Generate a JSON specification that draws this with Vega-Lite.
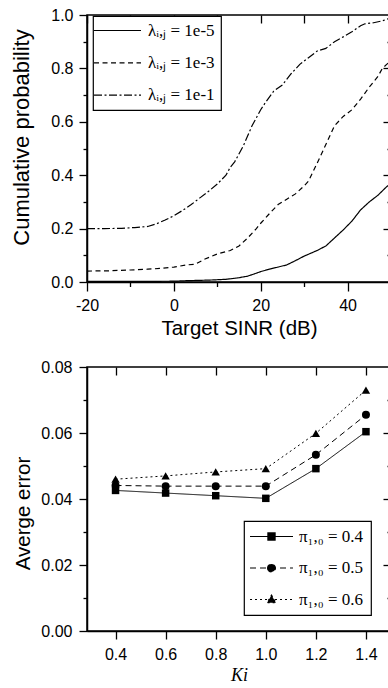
{
  "$schema": "https://vega.github.io/schema/vega-lite/v6.json",
  "background": "white",
  "padding": {"left": 10, "top": 6, "right": 0, "bottom": 0},
  "spacing": 18,
  "align": "none",
  "bounds": "full",
  "resolve": {"scale": {"strokeDash": "independent"}, "legend": {"strokeDash": "independent"}},
  "config": {
    "view": {"stroke": "black", "strokeWidth": 1.5},
    "axis": {
      "grid": false,
      "labelFont": "Liberation Sans",
      "labelFontSize": 16,
      "labelColor": "black",
      "labelFlush": false,
      "titleFont": "Liberation Sans",
      "titleFontWeight": "normal",
      "titleColor": "black",
      "tickColor": "black",
      "tickWidth": 1.3,
      "domainColor": "black",
      "domainWidth": 1.5
    },
    "legend": {
      "labelFont": "Liberation Serif",
      "labelFontSize": 17,
      "labelColor": "black",
      "strokeColor": "black",
      "fillColor": "white",
      "strokeWidth": 1.2
    }
  },
  "datasets": {
    "cdf": [
      {"snr": -20, "p": 0.002, "lam": "λᵢ,ⱼ = 1e-5"},
      {"snr": -10, "p": 0.002, "lam": "λᵢ,ⱼ = 1e-5"},
      {"snr": 0, "p": 0.003, "lam": "λᵢ,ⱼ = 1e-5"},
      {"snr": 3, "p": 0.005, "lam": "λᵢ,ⱼ = 1e-5"},
      {"snr": 8, "p": 0.007, "lam": "λᵢ,ⱼ = 1e-5"},
      {"snr": 12, "p": 0.01, "lam": "λᵢ,ⱼ = 1e-5"},
      {"snr": 15, "p": 0.016, "lam": "λᵢ,ⱼ = 1e-5"},
      {"snr": 17, "p": 0.022, "lam": "λᵢ,ⱼ = 1e-5"},
      {"snr": 19, "p": 0.033, "lam": "λᵢ,ⱼ = 1e-5"},
      {"snr": 20, "p": 0.039, "lam": "λᵢ,ⱼ = 1e-5"},
      {"snr": 22, "p": 0.048, "lam": "λᵢ,ⱼ = 1e-5"},
      {"snr": 24, "p": 0.056, "lam": "λᵢ,ⱼ = 1e-5"},
      {"snr": 26, "p": 0.064, "lam": "λᵢ,ⱼ = 1e-5"},
      {"snr": 28, "p": 0.08, "lam": "λᵢ,ⱼ = 1e-5"},
      {"snr": 30, "p": 0.097, "lam": "λᵢ,ⱼ = 1e-5"},
      {"snr": 31, "p": 0.104, "lam": "λᵢ,ⱼ = 1e-5"},
      {"snr": 33, "p": 0.118, "lam": "λᵢ,ⱼ = 1e-5"},
      {"snr": 35, "p": 0.135, "lam": "λᵢ,ⱼ = 1e-5"},
      {"snr": 37, "p": 0.165, "lam": "λᵢ,ⱼ = 1e-5"},
      {"snr": 39, "p": 0.195, "lam": "λᵢ,ⱼ = 1e-5"},
      {"snr": 41, "p": 0.228, "lam": "λᵢ,ⱼ = 1e-5"},
      {"snr": 43, "p": 0.27, "lam": "λᵢ,ⱼ = 1e-5"},
      {"snr": 45, "p": 0.3, "lam": "λᵢ,ⱼ = 1e-5"},
      {"snr": 47, "p": 0.325, "lam": "λᵢ,ⱼ = 1e-5"},
      {"snr": 49, "p": 0.357, "lam": "λᵢ,ⱼ = 1e-5"},
      {"snr": 50, "p": 0.37, "lam": "λᵢ,ⱼ = 1e-5"},
      {"snr": -20, "p": 0.041, "lam": "λᵢ,ⱼ = 1e-3"},
      {"snr": -15, "p": 0.042, "lam": "λᵢ,ⱼ = 1e-3"},
      {"snr": -10, "p": 0.045, "lam": "λᵢ,ⱼ = 1e-3"},
      {"snr": -6, "p": 0.048, "lam": "λᵢ,ⱼ = 1e-3"},
      {"snr": -3, "p": 0.051, "lam": "λᵢ,ⱼ = 1e-3"},
      {"snr": 0, "p": 0.056, "lam": "λᵢ,ⱼ = 1e-3"},
      {"snr": 3, "p": 0.064, "lam": "λᵢ,ⱼ = 1e-3"},
      {"snr": 5, "p": 0.067, "lam": "λᵢ,ⱼ = 1e-3"},
      {"snr": 7, "p": 0.085, "lam": "λᵢ,ⱼ = 1e-3"},
      {"snr": 10, "p": 0.105, "lam": "λᵢ,ⱼ = 1e-3"},
      {"snr": 13, "p": 0.118, "lam": "λᵢ,ⱼ = 1e-3"},
      {"snr": 15, "p": 0.135, "lam": "λᵢ,ⱼ = 1e-3"},
      {"snr": 17, "p": 0.165, "lam": "λᵢ,ⱼ = 1e-3"},
      {"snr": 19, "p": 0.2, "lam": "λᵢ,ⱼ = 1e-3"},
      {"snr": 20, "p": 0.22, "lam": "λᵢ,ⱼ = 1e-3"},
      {"snr": 22, "p": 0.256, "lam": "λᵢ,ⱼ = 1e-3"},
      {"snr": 24, "p": 0.29, "lam": "λᵢ,ⱼ = 1e-3"},
      {"snr": 26, "p": 0.31, "lam": "λᵢ,ⱼ = 1e-3"},
      {"snr": 28, "p": 0.33, "lam": "λᵢ,ⱼ = 1e-3"},
      {"snr": 30, "p": 0.36, "lam": "λᵢ,ⱼ = 1e-3"},
      {"snr": 31, "p": 0.378, "lam": "λᵢ,ⱼ = 1e-3"},
      {"snr": 33, "p": 0.445, "lam": "λᵢ,ⱼ = 1e-3"},
      {"snr": 35, "p": 0.515, "lam": "λᵢ,ⱼ = 1e-3"},
      {"snr": 37, "p": 0.585, "lam": "λᵢ,ⱼ = 1e-3"},
      {"snr": 39, "p": 0.62, "lam": "λᵢ,ⱼ = 1e-3"},
      {"snr": 41, "p": 0.645, "lam": "λᵢ,ⱼ = 1e-3"},
      {"snr": 43, "p": 0.685, "lam": "λᵢ,ⱼ = 1e-3"},
      {"snr": 45, "p": 0.73, "lam": "λᵢ,ⱼ = 1e-3"},
      {"snr": 47, "p": 0.77, "lam": "λᵢ,ⱼ = 1e-3"},
      {"snr": 48, "p": 0.8, "lam": "λᵢ,ⱼ = 1e-3"},
      {"snr": 49, "p": 0.815, "lam": "λᵢ,ⱼ = 1e-3"},
      {"snr": 50, "p": 0.83, "lam": "λᵢ,ⱼ = 1e-3"},
      {"snr": -20, "p": 0.2, "lam": "λᵢ,ⱼ = 1e-1"},
      {"snr": -16, "p": 0.2, "lam": "λᵢ,ⱼ = 1e-1"},
      {"snr": -12, "p": 0.201, "lam": "λᵢ,ⱼ = 1e-1"},
      {"snr": -9, "p": 0.204, "lam": "λᵢ,ⱼ = 1e-1"},
      {"snr": -6, "p": 0.208, "lam": "λᵢ,ⱼ = 1e-1"},
      {"snr": -4, "p": 0.218, "lam": "λᵢ,ⱼ = 1e-1"},
      {"snr": -2, "p": 0.232, "lam": "λᵢ,ⱼ = 1e-1"},
      {"snr": 0, "p": 0.248, "lam": "λᵢ,ⱼ = 1e-1"},
      {"snr": 2, "p": 0.268, "lam": "λᵢ,ⱼ = 1e-1"},
      {"snr": 4, "p": 0.29, "lam": "λᵢ,ⱼ = 1e-1"},
      {"snr": 6, "p": 0.315, "lam": "λᵢ,ⱼ = 1e-1"},
      {"snr": 8, "p": 0.34, "lam": "λᵢ,ⱼ = 1e-1"},
      {"snr": 10, "p": 0.367, "lam": "λᵢ,ⱼ = 1e-1"},
      {"snr": 12, "p": 0.4, "lam": "λᵢ,ⱼ = 1e-1"},
      {"snr": 13, "p": 0.43, "lam": "λᵢ,ⱼ = 1e-1"},
      {"snr": 14, "p": 0.45, "lam": "λᵢ,ⱼ = 1e-1"},
      {"snr": 16, "p": 0.51, "lam": "λᵢ,ⱼ = 1e-1"},
      {"snr": 18, "p": 0.585, "lam": "λᵢ,ⱼ = 1e-1"},
      {"snr": 20, "p": 0.645, "lam": "λᵢ,ⱼ = 1e-1"},
      {"snr": 21, "p": 0.67, "lam": "λᵢ,ⱼ = 1e-1"},
      {"snr": 23, "p": 0.715, "lam": "λᵢ,ⱼ = 1e-1"},
      {"snr": 25, "p": 0.738, "lam": "λᵢ,ⱼ = 1e-1"},
      {"snr": 27, "p": 0.78, "lam": "λᵢ,ⱼ = 1e-1"},
      {"snr": 29, "p": 0.815, "lam": "λᵢ,ⱼ = 1e-1"},
      {"snr": 31, "p": 0.84, "lam": "λᵢ,ⱼ = 1e-1"},
      {"snr": 33, "p": 0.865, "lam": "λᵢ,ⱼ = 1e-1"},
      {"snr": 35, "p": 0.875, "lam": "λᵢ,ⱼ = 1e-1"},
      {"snr": 37, "p": 0.9, "lam": "λᵢ,ⱼ = 1e-1"},
      {"snr": 39, "p": 0.918, "lam": "λᵢ,ⱼ = 1e-1"},
      {"snr": 41, "p": 0.937, "lam": "λᵢ,ⱼ = 1e-1"},
      {"snr": 43, "p": 0.96, "lam": "λᵢ,ⱼ = 1e-1"},
      {"snr": 44, "p": 0.967, "lam": "λᵢ,ⱼ = 1e-1"},
      {"snr": 46, "p": 0.971, "lam": "λᵢ,ⱼ = 1e-1"},
      {"snr": 48, "p": 0.978, "lam": "λᵢ,ⱼ = 1e-1"},
      {"snr": 50, "p": 0.99, "lam": "λᵢ,ⱼ = 1e-1"}
    ],
    "err": [
      {"ki": 0.4, "err": 0.0426, "pi": "π₁,₀ = 0.4"},
      {"ki": 0.6, "err": 0.0418, "pi": "π₁,₀ = 0.4"},
      {"ki": 0.8, "err": 0.041, "pi": "π₁,₀ = 0.4"},
      {"ki": 1.0, "err": 0.0402, "pi": "π₁,₀ = 0.4"},
      {"ki": 1.2, "err": 0.0492, "pi": "π₁,₀ = 0.4"},
      {"ki": 1.4, "err": 0.0604, "pi": "π₁,₀ = 0.4"},
      {"ki": 0.4, "err": 0.0441, "pi": "π₁,₀ = 0.5"},
      {"ki": 0.6, "err": 0.0439, "pi": "π₁,₀ = 0.5"},
      {"ki": 0.8, "err": 0.0439, "pi": "π₁,₀ = 0.5"},
      {"ki": 1.0, "err": 0.0439, "pi": "π₁,₀ = 0.5"},
      {"ki": 1.2, "err": 0.0534, "pi": "π₁,₀ = 0.5"},
      {"ki": 1.4, "err": 0.0655, "pi": "π₁,₀ = 0.5"},
      {"ki": 0.4, "err": 0.046, "pi": "π₁,₀ = 0.6"},
      {"ki": 0.6, "err": 0.047, "pi": "π₁,₀ = 0.6"},
      {"ki": 0.8, "err": 0.0482, "pi": "π₁,₀ = 0.6"},
      {"ki": 1.0, "err": 0.0492, "pi": "π₁,₀ = 0.6"},
      {"ki": 1.2, "err": 0.0599, "pi": "π₁,₀ = 0.6"},
      {"ki": 1.4, "err": 0.073, "pi": "π₁,₀ = 0.6"}
    ]
  },
  "vconcat": [
    {
      "width": 304,
      "height": 267,
      "data": {"name": "cdf"},
      "resolve": {"axis": {"x": "independent", "y": "independent"}},
      "layer": [
        {
          "mark": {"type": "line", "color": "black", "strokeWidth": 1.2, "clip": true},
          "encoding": {
            "x": {"field": "snr", "type": "quantitative", "scale": {"domain": [-20, 50], "nice": false, "zero": false},
              "axis": {"orient": "bottom", "values": [-20, 0, 20, 40], "labelExpr": "'' + datum.value", "tickSize": 9, "labelPadding": 6, "title": "Target SINR (dB)", "titleFontSize": 20.5, "titlePadding": 5}},
            "y": {"field": "p", "type": "quantitative", "scale": {"domain": [0, 1], "nice": false},
              "axis": {"orient": "left", "values": [0, 0.2, 0.4, 0.6, 0.8, 1], "format": ".1f", "tickSize": 8, "labelPadding": 6, "title": "Cumulative probability", "titleFontSize": 22, "titlePadding": 17, "titleY": 122}},
            "strokeDash": {"field": "lam", "type": "nominal",
              "scale": {"domain": ["λᵢ,ⱼ = 1e-5", "λᵢ,ⱼ = 1e-3", "λᵢ,ⱼ = 1e-1"], "range": [[1, 0], [5, 3.5], [8, 2.5, 2, 2.5]]},
              "legend": {"title": null, "orient": "none", "legendX": 6, "legendY": 1, "padding": 6, "rowPadding": 14.3, "symbolType": "M-3,0H3", "symbolSize": 245, "symbolStrokeWidth": 1.2, "symbolStrokeColor": "black", "symbolOffset": 10, "labelOffset": 22, "labelFont": "Liberation Serif", "labelFontSize": 17, "labelColor": "black"}}
          }
        },
        {
          "mark": {"type": "point", "opacity": 0},
          "encoding": {
            "x": {"field": "snr", "type": "quantitative", "axis": {"orient": "bottom", "values": [-10, 10, 30], "labels": false, "domain": false, "tickSize": 4.5, "title": null}},
            "y": {"field": "p", "type": "quantitative", "axis": {"orient": "left", "values": [0.1, 0.3, 0.5, 0.7, 0.9], "labels": false, "domain": false, "tickSize": 4, "title": null}}
          }
        },
        {
          "mark": {"type": "point", "opacity": 0},
          "encoding": {
            "x": {"field": "snr", "type": "quantitative", "axis": {"orient": "top", "values": [-20, -10, 0, 10, 20, 30, 40], "labels": false, "domain": false, "tickSize": -8, "title": null}},
            "y": {"field": "p", "type": "quantitative", "axis": {"orient": "right", "values": [0.2, 0.4, 0.6, 0.8], "labels": false, "domain": false, "tickSize": -8, "title": null}}
          }
        },
        {
          "mark": {"type": "point", "opacity": 0},
          "encoding": {
            "x": {"field": "snr", "type": "quantitative", "axis": null},
            "y": {"field": "p", "type": "quantitative", "axis": {"orient": "right", "values": [0.1, 0.3, 0.5, 0.7, 0.9], "labels": false, "domain": false, "tickSize": -4, "title": null}}
          }
        }
      ]
    },
    {
      "width": 304,
      "height": 264,
      "data": {"name": "err"},
      "resolve": {"axis": {"x": "independent", "y": "independent"}},
      "layer": [
        {
          "mark": {"type": "line", "color": "black", "strokeWidth": 1},
          "encoding": {
            "x": {"field": "ki", "type": "quantitative", "scale": {"domain": [0.286, 1.5], "nice": false, "zero": false},
              "axis": {"orient": "bottom", "values": [0.4, 0.6, 0.8, 1.0, 1.2, 1.4], "format": ".1f", "tickSize": 8, "labelPadding": 7, "title": "Ki", "titleFont": "Liberation Serif", "titleFontStyle": "italic", "titleFontSize": 18, "titlePadding": 4}},
            "y": {"field": "err", "type": "quantitative", "scale": {"domain": [0, 0.08], "nice": false},
              "axis": {"orient": "left", "values": [0, 0.02, 0.04, 0.06, 0.08], "format": ".2f", "tickSize": 8, "labelPadding": 7, "title": "Averge error", "titleFontSize": 20.5, "titlePadding": 7, "titleY": 146}},
            "strokeDash": {"field": "pi", "type": "nominal",
              "scale": {"domain": ["π₁,₀ = 0.4", "π₁,₀ = 0.5", "π₁,₀ = 0.6"], "range": [[1, 0], [6, 4], [2, 3]]},
              "legend": {"title": null, "orient": "none", "legendX": 157, "legendY": 154, "padding": 7, "rowPadding": 13.5, "symbolType": "M-3,0H3", "symbolSize": 205, "symbolStrokeWidth": 1.2, "symbolStrokeColor": "black", "symbolFillColor": "black", "symbolOffset": 12, "labelOffset": 19, "labelFont": "Liberation Serif", "labelFontSize": 17, "labelColor": "black",
                "encode": {"symbols": {"update": {"shape": {"signal": "datum.index === 0 ? 'M-3,0H3M-0.5,-0.5H0.5V0.5H-0.5Z' : datum.index === 1 ? 'M-3,0H3M-0.55,0A0.55,0.55,0,1,0,0.55,0A0.55,0.55,0,1,0,-0.55,0Z' : 'M-3,0H3M0,-0.6L0.62,0.45L-0.62,0.45Z'"}, "fill": {"value": "black"}, "stroke": {"value": "black"}, "strokeWidth": {"value": 1.2}}}}}}
          }
        },
        {
          "transform": [{"filter": {"field": "pi", "equal": "π₁,₀ = 0.4"}}],
          "mark": {"type": "point", "shape": "square", "filled": true, "color": "black", "size": 56, "opacity": 1},
          "encoding": {
            "x": {"field": "ki", "type": "quantitative", "axis": null},
            "y": {"field": "err", "type": "quantitative", "axis": null}
          }
        },
        {
          "transform": [{"filter": {"field": "pi", "equal": "π₁,₀ = 0.5"}}],
          "mark": {"type": "point", "shape": "circle", "filled": true, "color": "black", "size": 64, "opacity": 1},
          "encoding": {
            "x": {"field": "ki", "type": "quantitative", "axis": null},
            "y": {"field": "err", "type": "quantitative", "axis": null}
          }
        },
        {
          "transform": [{"filter": {"field": "pi", "equal": "π₁,₀ = 0.6"}}],
          "mark": {"type": "point", "shape": "triangle-up", "filled": true, "color": "black", "size": 70, "opacity": 1},
          "encoding": {
            "x": {"field": "ki", "type": "quantitative", "axis": null},
            "y": {"field": "err", "type": "quantitative", "axis": null}
          }
        },
        {
          "mark": {"type": "point", "opacity": 0},
          "encoding": {
            "x": {"field": "ki", "type": "quantitative", "axis": null},
            "y": {"field": "err", "type": "quantitative", "axis": {"orient": "left", "values": [0.01, 0.03, 0.05, 0.07], "labels": false, "domain": false, "tickSize": 4, "title": null}}
          }
        },
        {
          "mark": {"type": "point", "opacity": 0},
          "encoding": {
            "x": {"field": "ki", "type": "quantitative", "axis": {"orient": "top", "values": [0.4, 0.6, 0.8, 1.0, 1.2, 1.4], "labels": false, "domain": false, "tickSize": -8, "title": null}},
            "y": {"field": "err", "type": "quantitative", "axis": {"orient": "right", "values": [0.02, 0.04, 0.06], "labels": false, "domain": false, "tickSize": -8, "title": null}}
          }
        },
        {
          "mark": {"type": "point", "opacity": 0},
          "encoding": {
            "x": {"field": "ki", "type": "quantitative", "axis": null},
            "y": {"field": "err", "type": "quantitative", "axis": {"orient": "right", "values": [0.01, 0.03, 0.05, 0.07], "labels": false, "domain": false, "tickSize": -4, "title": null}}
          }
        }
      ]
    }
  ]
}
